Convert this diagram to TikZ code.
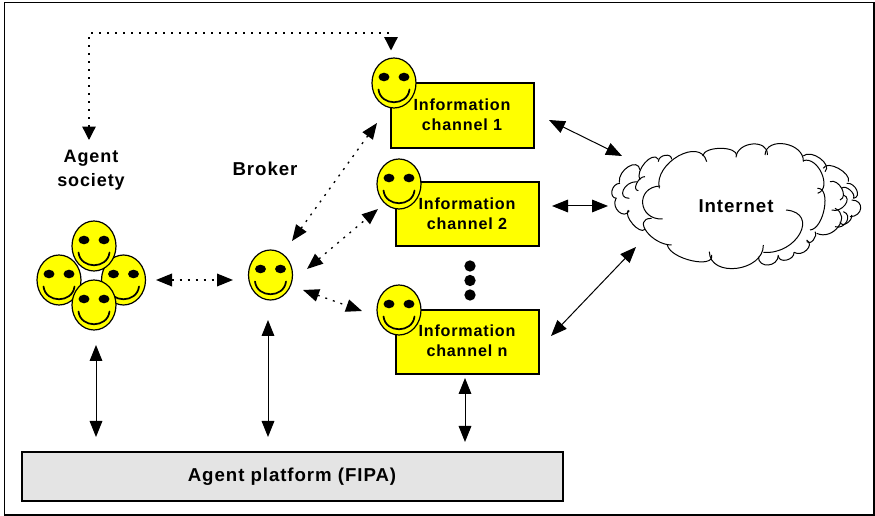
\documentclass[tikz,border=0pt]{standalone}
\usepackage{fontspec}
\setmainfont{Liberation Sans}[Scale=1,LetterSpace=5]
\usetikzlibrary{arrows.meta,shapes.geometric}
\definecolor{smileY}{RGB}{255,255,0}
\definecolor{platGray}{RGB}{228,228,228}
\tikzset{
  frameline/.style={draw=black,line width=1.1pt},
  facebody/.style={ellipse,draw=black,fill=smileY,line width=0.9pt,minimum width=33pt,minimum height=37.5pt,inner sep=0pt},
  chanbox/.style={rectangle,draw=black,fill=smileY,line width=1.5pt,minimum width=107pt,minimum height=48.5pt,inner sep=0pt},
  platbox/.style={rectangle,draw=black,fill=platGray,line width=1.2pt,minimum width=405.5pt,minimum height=36.5pt,inner sep=0pt},
  lab/.style={font=\bfseries\fontsize{14}{18}\selectfont,align=center,inner sep=0pt,text=black},
  chanlab/.style={font=\bfseries\fontsize{12.1}{15.3}\selectfont,align=center,inner sep=0pt,text=black},
  twoway/.style={{Triangle[length=12pt,width=9.5pt]}-{Triangle[length=12pt,width=9.5pt]},line width=0.75pt},
  twodot/.style={twoway,line width=1pt,dash pattern=on 1.5pt off 4.5pt},
  bigdot/.style={circle,fill=black,minimum size=8.5pt,inner sep=0pt},
  puff/.style={draw=black,line width=0.75pt},
}
\newcommand{\smileyface}[3]{%
  \node[facebody] (#1) at (#2,#3) {};
  \fill[black] (#2-10,#3-6) ellipse [x radius=4.1pt,y radius=3.2pt];
  \fill[black] (#2+10,#3-6) ellipse [x radius=4.1pt,y radius=3.2pt];
  \draw[line width=1.3pt,line cap=round] (#2-15.5,#3+6.5) .. controls (#2-13.5,#3+23.5) and (#2+13.5,#3+23.5) .. (#2+15.5,#3+6.5);
}
\begin{document}
\begin{tikzpicture}[x=0.75pt,y=-0.75pt]
\useasboundingbox (0,0) rectangle (875,516);
\fill[white] (0,0) rectangle (875,516);
\draw[frameline] (4.5,2.5) rectangle (874,515);

% platform
\node[platbox] (plat) at (292.5,476.5) {};
\node[lab] (plattext) at (292,477) {Agent platform (FIPA)};

% society
\smileyface{sl}{59}{280}
\smileyface{sr}{123.5}{280}
\smileyface{st}{94}{246}
\smileyface{sb}{94}{305}
\node[lab,font=\bfseries\fontsize{13.5}{18}\selectfont] (soclab) at (91,170) {Agent\\society};

% broker
\smileyface{brok}{270.5}{275}
\node[lab] (broklab) at (265,169) {Broker};

% channels
\node[chanbox] (c1) at (462.5,115.5) {};
\smileyface{f1}{394}{83}
\node[chanlab] (c1t) at (462,114.5) {Information\\channel 1};
\node[chanbox] (c2) at (467.5,214) {};
\smileyface{f2}{399}{184}
\node[chanlab] (c2t) at (467,213.5) {Information\\channel 2};
\node[chanbox] (cn) at (467.5,342) {};
\smileyface{fn}{399}{310}
\node[chanlab] (cnt) at (467,340.5) {Information\\channel n};
\node[bigdot] (d1) at (470,266) {};
\node[bigdot] (d2) at (470,280.5) {};
\node[bigdot] (d3) at (470,295) {};

% cloud
\coordinate (cloudo) at (590,120);
\begin{scope}[shift={(cloudo)},x=0.25pt,y=-0.25pt]
\fill[white] (90,180) -- (210,110) -- (640,120) -- (780,160) -- (800,270) -- (650,370) -- (520,420) -- (200,340) -- (70,220) -- cycle;
\foreach \ax/\ay/\bx/\by/\cx/\cy in {
 88/188/150/150/115/140, 80/235/90/190/66/212, 118/272/78/235/86/275,
 165/328/115/270/128/312, 150/180/205/118/165/128, 205/125/245/118/225/106,
 118/235/140/185/100/210, 145/212/165/170/140/190,
 640/108/705/155/690/115, 700/145/775/185/745/145, 770/190/790/235/800/210,
 785/240/780/290/812/265, 750/305/785/285/770/310, 720/185/750/240/755/205,
 755/205/790/235/780/210, 725/270/760/225/765/255, 735/320/760/275/770/305,
 680/340/735/265/745/320, 650/365/675/335/670/360, 612/397/650/360/650/390,
 565/408/612/397/590/420, 505/410/565/405/535/435 }
 {
 \pgfmathsetmacro\dx{4/3*(\cx-(\ax+\bx)/2)}
 \pgfmathsetmacro\dy{4/3*(\cy-(\ay+\by)/2)}
 \draw[puff] (\ax,\ay) .. controls (\ax+\dx,\ay+\dy) and (\bx+\dx,\by+\dy) .. (\bx,\by);
 }
\fill[white] (210,200) .. controls (210,130) and (300,100) .. (340,120) -- (440,100) -- (530,90) -- (640,120) -- (690,210) -- (700,260) -- (660,330) -- (630,330) -- (520,395) -- (435,445) -- (310,420) -- (235,375) -- (172,320) -- (165,250) -- cycle;
\foreach \ax/\ay/\bx/\by/\cx/\cy in {
 208/205/350/125/265/108, 338/108/440/108/392/85, 438/112/532/105/488/72,
 525/105/640/125/585/72, 640/122/683/220/695/160, 682/205/660/330/703/265,
 588/270/520/397/630/340, 520/375/358/395/440/445, 365/405/232/375/305/422,
 245/375/185/295/170/335, 218/297/210/198/158/250 }
 {
 \pgfmathsetmacro\dx{4/3*(\cx-(\ax+\bx)/2)}
 \pgfmathsetmacro\dy{4/3*(\cy-(\ay+\by)/2)}
 \draw[puff] (\ax,\ay) .. controls (\ax+\dx,\ay+\dy) and (\bx+\dx,\by+\dy) .. (\bx,\by);
 }
\end{scope}
\node[lab] (net) at (736,206) {Internet};

% connector end points
\coordinate (topa) at (89,140);
\coordinate (topb) at (89,33);
\coordinate (topc) at (391,33);
\coordinate (topd) at (391,50.5);
\coordinate (gb1) at (156,280);
\coordinate (gb2) at (233,280);
\coordinate (b1a) at (292,241);
\coordinate (b1b) at (377,123);
\coordinate (b2a) at (307,269);
\coordinate (b2b) at (378,209);
\coordinate (b3a) at (303,290);
\coordinate (b3b) at (362,311);
\coordinate (n1a) at (549,120);
\coordinate (n1b) at (622,156);
\coordinate (n2a) at (552,206);
\coordinate (n2b) at (608,206);
\coordinate (n3a) at (551,336);
\coordinate (n3b) at (636,247);
\coordinate (p1a) at (96,345);
\coordinate (p1b) at (96,437);
\coordinate (p2a) at (268,320);
\coordinate (p2b) at (268,437);
\coordinate (p3a) at (465,378);
\coordinate (p3b) at (465,442);

\draw[twodot,{Triangle[length=10pt,width=10pt]}-{Triangle[length=10pt,width=10pt]}] (topa) -- (topb) -- (topc) -- (topd);
\draw[twodot] (gb1) -- (gb2);
\draw[twodot] (b1a) -- (b1b);
\draw[twodot] (b2a) -- (b2b);
\draw[twodot] (b3a) -- (b3b);
\draw[twoway] (n1a) -- (n1b);
\draw[twoway] (n2a) -- (n2b);
\draw[twoway] (n3a) -- (n3b);
\draw[twoway] (p1a) -- (p1b);
\draw[twoway] (p2a) -- (p2b);
\draw[twoway] (p3a) -- (p3b);
\end{tikzpicture}
\end{document}
